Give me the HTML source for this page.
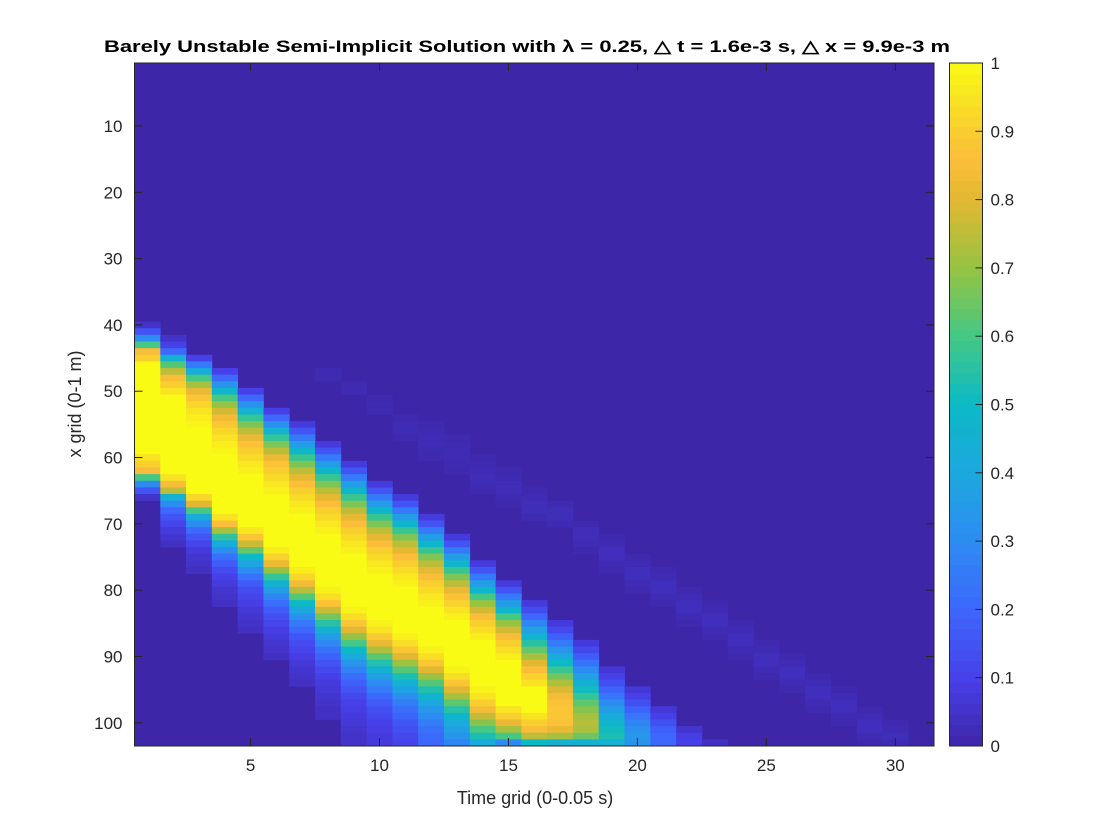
<!DOCTYPE html>
<html><head><meta charset="utf-8"><style>
html,body{margin:0;padding:0;background:#fff;}
svg{display:block;font-family:"Liberation Sans",Arial,sans-serif;}
</style></head><body>
<svg id="chart" width="1120" height="840" viewBox="0 0 1120 840" xmlns="http://www.w3.org/2000/svg">
<rect x="0" y="0" width="1120" height="840" fill="#ffffff"/>
<text x="527" y="52" text-anchor="middle" font-size="17" font-weight="bold" fill="#000" textLength="846" lengthAdjust="spacingAndGlyphs">Barely Unstable Semi-Implicit Solution with λ = 0.25, △ t = 1.6e-3 s, △ x = 9.9e-3 m</text>
<g id="cells"></g>
<g id="wave"></g>
<g id="axes"></g>
<g id="cbar"></g>
<text x="535" y="804" text-anchor="middle" font-size="18" fill="#262626">Time grid (0-0.05 s)</text>
<text x="0" y="0" transform="translate(81,404) rotate(-90)" text-anchor="middle" font-size="18" fill="#262626">x grid (0-1 m)</text>
</svg>
<script>
// ---- data ----
const nCols = 31;
const nRows = 103;
const xTicks = [5,10,15,20,25,30];
const yTicks = [10,20,30,40,50,60,70,80,90,100];
const cbTicks = [0,0.1,0.2,0.3,0.4,0.5,0.6,0.7,0.8,0.9,1];
const cbTickLabels = ["0","0.1","0.2","0.3","0.4","0.5","0.6","0.7","0.8","0.9","1"];
// main pulse: per column start row and values going down
const pulseStart = [40,42,45,47,50,53,55,58,61,64,66,69,72,76,79,82,85,88,92,95,98,101,103];
const pulseValues = [
 [0.05,0.15,0.3,0.6,0.85,0.9,1,1,1,1,1,1,1,1,1,1,1,1,1,1,0.95,0.9,0.85,0.6,0.3,0.15,0.05],
 [0.05,0.1,0.2,0.45,0.62,0.75,0.85,0.9,0.95,1,1,1,1,1,1,1,1,1,1,1,1,0.95,0.85,0.75,0.45,0.3,0.2,0.15,0.11,0.08,0.06,0.04],
 [0.1,0.25,0.42,0.6,0.72,0.82,0.88,0.92,0.95,0.97,0.99,1,1,1,1,1,1,1,1,1,1,0.92,0.8,0.6,0.42,0.3,0.21,0.15,0.11,0.08,0.06,0.05,0.04],
 [0.1,0.2,0.33,0.47,0.6,0.7,0.78,0.84,0.88,0.92,0.95,0.97,0.99,1,1,1,1,1,1,1,1,1,0.95,0.86,0.72,0.56,0.42,0.31,0.23,0.17,0.13,0.1,0.08,0.06,0.05,0.04],
 [0.1,0.2,0.32,0.45,0.57,0.67,0.75,0.82,0.87,0.9,0.93,0.96,0.98,1,1,1,1,1,1,1,1,0.96,0.88,0.77,0.64,0.5,0.39,0.3,0.23,0.17,0.13,0.11,0.09,0.07,0.06,0.05,0.04],
 [0.1,0.2,0.32,0.45,0.57,0.67,0.75,0.82,0.87,0.9,0.93,0.96,0.98,1,1,1,1,1,1,1,1,0.97,0.91,0.82,0.7,0.57,0.46,0.36,0.28,0.22,0.17,0.14,0.11,0.09,0.08,0.06,0.05,0.04],
 [0.08,0.15,0.25,0.36,0.48,0.58,0.67,0.75,0.81,0.86,0.9,0.93,0.96,0.98,1,1,1,1,1,1,1,1,0.97,0.92,0.84,0.74,0.62,0.5,0.4,0.32,0.25,0.2,0.16,0.13,0.11,0.09,0.07,0.06,0.05,0.04],
 [0.08,0.15,0.25,0.36,0.48,0.58,0.67,0.75,0.81,0.86,0.9,0.93,0.96,0.98,1,1,1,1,1,1,1,1,0.98,0.94,0.87,0.77,0.66,0.55,0.45,0.36,0.29,0.23,0.19,0.15,0.12,0.1,0.08,0.07,0.06,0.05,0.04,0.04],
 [0.08,0.15,0.25,0.36,0.48,0.58,0.67,0.75,0.81,0.86,0.9,0.93,0.96,0.98,1,1,1,1,1,1,1,1,0.98,0.94,0.88,0.8,0.7,0.6,0.5,0.41,0.33,0.27,0.22,0.18,0.15,0.12,0.1,0.09,0.08,0.07,0.06,0.05,0.05],
 [0.08,0.15,0.25,0.36,0.48,0.58,0.67,0.75,0.81,0.86,0.9,0.93,0.96,0.98,1,1,1,1,1,1,1,0.98,0.95,0.89,0.82,0.73,0.63,0.54,0.45,0.37,0.3,0.25,0.2,0.17,0.14,0.12,0.1,0.09,0.08,0.08],
 [0.08,0.15,0.25,0.36,0.48,0.58,0.67,0.75,0.81,0.86,0.9,0.93,0.96,0.98,1,1,1,1,1,1,1,0.98,0.94,0.88,0.8,0.71,0.62,0.53,0.45,0.38,0.31,0.26,0.22,0.19,0.16,0.14,0.12,0.11],
 [0.08,0.15,0.25,0.36,0.48,0.58,0.67,0.75,0.81,0.86,0.9,0.93,0.96,0.98,1,1,1,1,1,1,0.98,0.94,0.88,0.8,0.71,0.62,0.54,0.47,0.4,0.34,0.3,0.26,0.23,0.21,0.2],
 [0.08,0.15,0.25,0.36,0.48,0.58,0.67,0.75,0.82,0.87,0.91,0.95,0.98,1,1,1,1,1,1,1,0.98,0.94,0.88,0.8,0.72,0.63,0.55,0.48,0.42,0.37,0.33,0.28],
 [0.08,0.15,0.25,0.36,0.48,0.6,0.7,0.78,0.85,0.9,0.94,0.97,1,1,1,1,1,1,1,0.98,0.95,0.9,0.84,0.76,0.68,0.6,0.53,0.42],
 [0.08,0.15,0.25,0.36,0.48,0.6,0.7,0.78,0.85,0.9,0.94,0.97,1,1,1,1,1,1,1,0.95,0.9,0.82,0.72,0.6,0.3],
 [0.08,0.13,0.2,0.28,0.37,0.46,0.55,0.64,0.72,0.8,0.86,0.91,0.95,1,1,1,1,0.95,0.9,0.85,0.75,0.5],
 [0.08,0.12,0.18,0.25,0.33,0.41,0.5,0.58,0.66,0.73,0.79,0.84,0.87,0.88,0.88,0.87,0.82,0.72,0.45],
 [0.08,0.12,0.17,0.23,0.3,0.37,0.44,0.51,0.57,0.63,0.68,0.72,0.74,0.73,0.65,0.45],
 [0.07,0.1,0.14,0.19,0.24,0.3,0.36,0.42,0.47,0.51,0.53,0.45],
 [0.07,0.1,0.14,0.19,0.24,0.28,0.32,0.34,0.33],
 [0.07,0.1,0.14,0.18,0.2,0.2],
 [0.06,0.09,0.1],
 [0.04]
];
// faint secondary wave: column index (1-based), start row, values
const waveCols = [8,9,10,11,12,13,14,15,16,17,18,19,20,21,22,23,24,25,26,27,28,29,30];
const waveStart = [47,49,51,54,55,57,60,62,65,67,70,72,75,77,80,82,85,88,90,93,95,98,100];
const waveValues = [
 [0.015,0.015],[0.015,0.015],[0.01,0.015,0.015],[0.01,0.02,0.02,0.01],
 [0.01,0.015,0.02,0.02,0.015,0.01],[0.01,0.015,0.02,0.02,0.015,0.01],
 [0.01,0.015,0.02,0.025,0.02,0.01],[0.01,0.015,0.025,0.025,0.015,0.01],
 [0.01,0.02,0.025,0.025,0.015],[0.015,0.025,0.025,0.015],[0.01,0.025,0.025,0.02,0.01],
 [0.01,0.02,0.03,0.03,0.02,0.01],[0.01,0.02,0.03,0.03,0.02,0.01],
 [0.01,0.02,0.03,0.03,0.02,0.01],[0.01,0.02,0.03,0.03,0.02,0.01],
 [0.01,0.02,0.03,0.03,0.02,0.01],[0.01,0.02,0.03,0.03,0.02,0.01],
 [0.01,0.02,0.03,0.03,0.02,0.01],[0.01,0.02,0.03,0.03,0.02,0.01],
 [0.01,0.02,0.03,0.03,0.02,0.01],[0.01,0.02,0.03,0.03,0.02,0.01],
 [0.01,0.02,0.03,0.03,0.02,0.01],[0.01,0.02,0.025,0.02]
];

// ---- layout ----
const NS = "http://www.w3.org/2000/svg";
const plot = {l:134.5, r:934, t:63, b:746};
const cw = (plot.r-plot.l)/nCols, rh = (plot.b-plot.t)/nRows;
function xPos(c){ return plot.l + (c-0.5)*cw; }
function yPos(r){ return plot.t + (r-0.5)*rh; }
const stops = [[0,62,38,168],[0.1,71,64,233],[0.2,61,103,253],[0.3,45,140,242],[0.4,28,168,222],[0.5,12,185,198],[0.6,68,200,132],[0.7,150,195,66],[0.8,226,184,50],[0.86,252,190,58],[0.92,248,214,42],[1,249,251,20]];
function color(v){
  v=Math.max(0,Math.min(1,v));
  for(let i=1;i<stops.length;i++){
    if(v<=stops[i][0]){
      const a=stops[i-1], b=stops[i], t=(v-a[0])/(b[0]-a[0]);
      return `rgb(${Math.round(a[1]+(b[1]-a[1])*t)},${Math.round(a[2]+(b[2]-a[2])*t)},${Math.round(a[3]+(b[3]-a[3])*t)})`;
    }
  }
  return "rgb(249,251,20)";
}
function mk(tag, attrs, parent){
  const e=document.createElementNS(NS,tag);
  for(const k in attrs) e.setAttribute(k,attrs[k]);
  parent.appendChild(e); return e;
}
const grid=[];
for(let c=0;c<nCols;c++){ grid.push(new Array(nRows).fill(0)); }
pulseValues.forEach((vals,ci)=>{ vals.forEach((v,k)=>{ const r=pulseStart[ci]+k; if(r<=nRows) grid[ci][r-1]=Math.max(grid[ci][r-1],v); }); });
waveValues.forEach((vals,wi)=>{ const ci=waveCols[wi]-1; vals.forEach((v,k)=>{ const r=waveStart[wi]+k; if(r<=nRows) grid[ci][r-1]=Math.max(grid[ci][r-1],v); }); });

const cells=document.getElementById('cells');
const bg=mk('rect',{x:plot.l,y:plot.t,width:plot.r-plot.l,height:plot.b-plot.t,fill:color(0)},cells);


for(let c=0;c<nCols;c++){
  for(let r=0;r<nRows;r++){
    const v=grid[c][r];
    if(v<=0) continue;
    const x0=xPos(c+1)-cw/2, y0=yPos(r+1)-rh/2;
    const e=mk('rect',{x:x0.toFixed(2),y:y0.toFixed(2),width:(cw+0.4).toFixed(2),height:(rh+0.4).toFixed(2),fill:color(v)},cells);
    
    
  }
}
const ax=document.getElementById('axes');
const frame=mk('rect',{x:plot.l,y:plot.t,width:plot.r-plot.l,height:plot.b-plot.t,fill:'none',stroke:'#262626','stroke-width':1},ax);


xTicks.forEach(t=>{
  const x=xPos(t);
  const l1=mk('line',{x1:x,x2:x,y1:plot.b,y2:plot.b-8,stroke:'#262626'},ax);
  
  
  const l2=mk('line',{x1:x,x2:x,y1:plot.t,y2:plot.t+8,stroke:'#262626'},ax);
  
  
  const tx=mk('text',{x:x,y:plot.b+25,'text-anchor':'middle','font-size':17,fill:'#262626'},ax);
  tx.textContent=String(t);
  
  
});
yTicks.forEach(t=>{
  const y=yPos(t);
  const l1=mk('line',{x1:plot.l,x2:plot.l+8,y1:y,y2:y,stroke:'#262626'},ax);
  
  
  const l2=mk('line',{x1:plot.r,x2:plot.r-8,y1:y,y2:y,stroke:'#262626'},ax);
  
  
  const tx=mk('text',{x:plot.l-12,y:y+6,'text-anchor':'end','font-size':17,fill:'#262626'},ax);
  tx.textContent=String(t);
  
  
});
const cb=document.getElementById('cbar');
const cbx=949.5, cbw=33, cbt=63, cbb=746;
const nSeg=64;
for(let i=0;i<nSeg;i++){
  const v0=i/nSeg;
  const y0=cbb-(i+1)*(cbb-cbt)/nSeg;
  const e=mk('rect',{x:cbx,y:y0.toFixed(2),width:cbw,height:((cbb-cbt)/nSeg+0.5).toFixed(2),fill:color(v0+0.5/nSeg)},cb);
  
  
}
const cbf=mk('rect',{x:cbx,y:cbt,width:cbw,height:cbb-cbt,fill:'none',stroke:'#262626'},cb);


cbTicks.forEach((t,i)=>{
  const y=cbb-t*(cbb-cbt);
  const l=mk('line',{x1:cbx+cbw,x2:cbx+cbw-7,y1:y,y2:y,stroke:'#262626'},cb);
  
  
  const tx=mk('text',{x:cbx+cbw+8,y:y+6,'font-size':17,fill:'#262626'},cb);
  tx.textContent=cbTickLabels[i];
  
  
});
</script>
</body></html>
